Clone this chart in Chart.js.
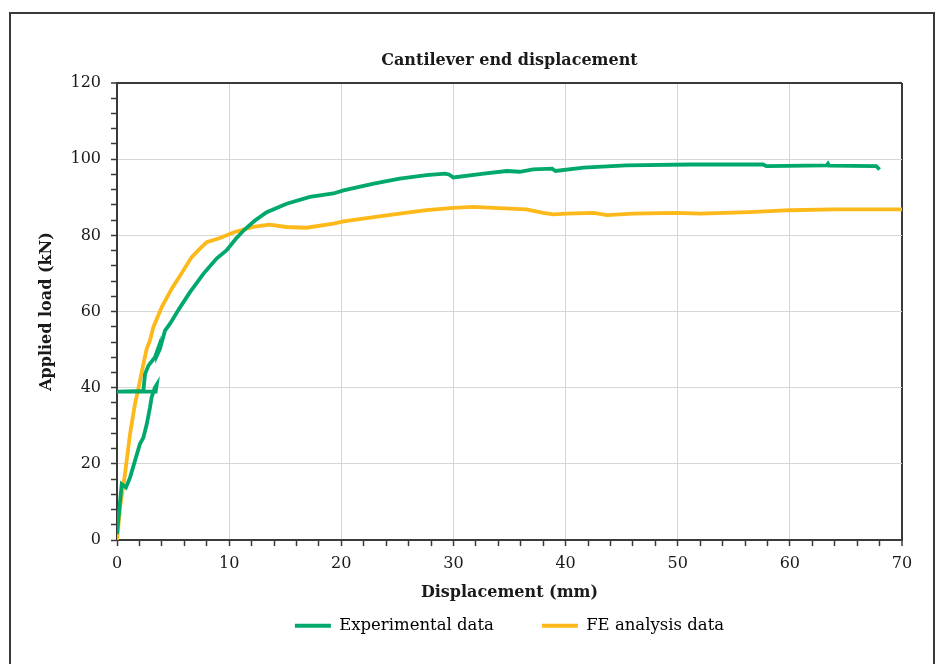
<!DOCTYPE html>
<html>
<head>
<meta charset="utf-8">
<script src="https://cdn.jsdelivr.net/npm/chart.js@4"></script>
<style>
  body { margin: 0; background: #fff; }
  #wrap { position: relative; width: 938px; height: 664px; }
  #frame { position: absolute; left: 9px; top: 12px; width: 922px; height: 700px; border: 2px solid #3a3a3a; border-bottom: none; }
  canvas { position: absolute; left: 0; top: 0; }
</style>
</head>
<body>
<div id="wrap">
  <div id="frame"></div>
  <canvas id="grafico" width="938" height="664"></canvas>
</div>
<script>
// Datos (desplazamiento en mm, carga en kN)
const expX = [0, 0.42, 0.8, 1.16, 1.6, 2.05, 2.35, 2.65, 2.94, 3.09, 3.39, 3.54, 3.45, 0, 2.35, 2.5, 2.8, 3.39, 3.62, 3.58, 3.83, 4.28, 4.73, 5.62, 6.51, 7.7, 8.88, 9.78, 10.6, 11.4, 12.3, 13.35, 15.13, 17.2, 19.3, 20.2, 22.9, 25.2, 27.6, 29.25, 29.6, 30.0, 32.7, 34.75, 35.9, 37.1, 38.8, 39.1, 41.6, 45.4, 51.1, 57.6, 57.9, 63.3, 63.4, 63.5, 67.7, 68.0];
const expY = [1.6, 14.7, 13.8, 16.4, 20.8, 25.3, 26.9, 30.4, 34.8, 37.5, 40.1, 40.8, 39.0, 39.0, 39.2, 43.6, 45.8, 48.0, 49.9, 48.6, 50.2, 55.0, 56.8, 61.1, 65.1, 69.9, 73.9, 76.1, 79.1, 81.6, 83.9, 86.1, 88.3, 90.1, 91.0, 91.8, 93.6, 94.9, 95.8, 96.2, 96.0, 95.2, 96.2, 96.9, 96.7, 97.3, 97.5, 96.9, 97.8, 98.4, 98.6, 98.6, 98.2, 98.4, 98.8, 98.3, 98.2, 97.3];

const feX = [0, 0.27, 0.71, 1.16, 1.6, 1.9, 2.35, 2.65, 2.94, 3.24, 3.98, 4.88, 5.62, 6.66, 7.4, 8.0, 9.18, 10.5, 12.15, 13.6, 15.1, 16.9, 19.3, 20.2, 22.9, 25.2, 27.6, 30.0, 31.8, 33.6, 36.5, 38.0, 38.9, 40.1, 42.5, 43.7, 46.0, 49.9, 52.0, 56.4, 60.0, 63.9, 66.9, 70];
const feY = [0, 8.5, 17.3, 27.8, 35.7, 39.7, 46.2, 50.2, 52.4, 55.9, 61.1, 66.0, 69.4, 74.3, 76.5, 78.2, 79.3, 80.9, 82.2, 82.8, 82.2, 82.0, 83.1, 83.7, 84.8, 85.7, 86.6, 87.2, 87.5, 87.2, 86.8, 85.9, 85.5, 85.7, 85.9, 85.3, 85.7, 85.9, 85.7, 86.1, 86.6, 86.8, 86.8, 86.8];

const nombres = ['Experimental data', 'FE analysis data'];
const colores = ['#00a86b', '#fdb819'];

const FUENTE = '"DejaVu Serif", serif';
const TAM = 16;
const EJE = '#3a3a3a';
const REJILLA = '#d6d6d6';
const TEXTO = '#1a1a1a';

function puntos(xs, ys) {
    return xs.map((x, i) => ({ x: x, y: ys[i] }));
}

const ctx = document.getElementById('grafico').getContext('2d');

new Chart(ctx, {
    type: 'scatter',
    data: {
        datasets: [
            {
                label: nombres[0],
                data: puntos(expX, expY),
                showLine: true,
                borderColor: colores[0],
                backgroundColor: colores[0],
                borderWidth: 3.8,
                pointRadius: 0,
                tension: 0
            },
            {
                label: nombres[1],
                data: puntos(feX, feY),
                showLine: true,
                borderColor: colores[1],
                backgroundColor: colores[1],
                borderWidth: 3.8,
                pointRadius: 0,
                tension: 0
            }
        ]
    },
    options: {
        responsive: false,
        animation: false,
        layout: { padding: { left: 30, right: 36, top: 0, bottom: 20 } },
        plugins: {
            title: {
                display: true,
                fullSize: false,
                text: 'Cantilever end displacement',
                color: TEXTO,
                font: { family: FUENTE, size: TAM, weight: 'bold' },
                padding: { top: 51, bottom: 12.8 }
            },
            legend: {
                position: 'bottom',
                fullSize: false,
                labels: {
                    color: TEXTO,
                    font: { family: FUENTE, size: 16.5 },
                    boxWidth: 36,
                    boxHeight: 4,
                    padding: 48,
                    generateLabels: function(chart) {
                        return chart.data.datasets.map((d, i) => ({
                            text: d.label,
                            fillStyle: d.borderColor,
                            strokeStyle: d.borderColor,
                            lineWidth: 0,
                            datasetIndex: i,
                            hidden: false
                        }));
                    }
                }
            },
            tooltip: { enabled: false }
        },
        scales: {
            x: {
                type: 'linear',
                min: 0,
                max: 70,
                afterFit: function(scale) { scale.height = 29.4; },
                ticks: {
                    stepSize: 2,
                    autoSkip: false,
                    maxRotation: 0,
                    padding: 8,
                    color: TEXTO,
                    font: { family: FUENTE, size: TAM },
                    callback: v => (v % 10 === 0 ? v : '')
                },
                grid: {
                    color: c => (c.tick.value === 70 ? EJE : (c.tick.value % 10 === 0 && c.tick.value !== 0 ? REJILLA : 'rgba(0,0,0,0)')),
                    lineWidth: c => (c.tick.value === 70 ? 2 : 1),
                    tickColor: EJE,
                    tickLength: 6,
                    tickWidth: 1.5
                },
                border: { color: EJE, width: 2 },
                title: {
                    display: true,
                    text: 'Displacement (mm)',
                    color: TEXTO,
                    font: { family: FUENTE, size: TAM, weight: 'bold' },
                    // el título queda entre el eje y la leyenda
                    padding: { top: 0, bottom: -33.2 }
                }
            },
            y: {
                type: 'linear',
                min: 0,
                max: 120,
                afterFit: function(scale) { scale.width = 87; },
                ticks: {
                    stepSize: 4,
                    autoSkip: false,
                    padding: 10,
                    color: TEXTO,
                    font: { family: FUENTE, size: TAM },
                    callback: v => (v % 20 === 0 ? v : '')
                },
                grid: {
                    color: c => (c.tick.value === 120 ? EJE : (c.tick.value % 20 === 0 && c.tick.value !== 0 ? REJILLA : 'rgba(0,0,0,0)')),
                    lineWidth: c => (c.tick.value === 120 ? 2 : 1),
                    tickColor: EJE,
                    tickLength: 6,
                    tickWidth: 1.5
                },
                border: { color: EJE, width: 2 },
                title: {
                    display: true,
                    text: 'Applied load (kN)',
                    color: TEXTO,
                    font: { family: FUENTE, size: TAM, weight: 'bold' },
                    padding: { top: 7.4, bottom: 0 }
                }
            }
        }
    }
});
</script>
</body>
</html>
